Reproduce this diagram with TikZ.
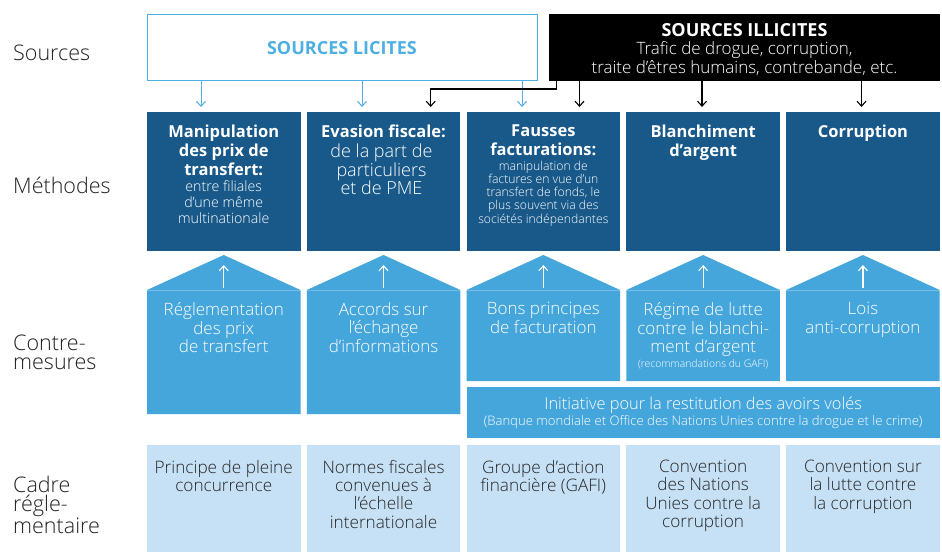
\documentclass[tikz,border=0pt]{standalone}
\usepackage{fontspec}
\setmainfont{Open Sans}
\newfontfamily\lightf{Open Sans Light}
\usetikzlibrary{arrows.meta,calc}
\definecolor{dblue}{HTML}{18598A}
\definecolor{mblue}{HTML}{45A6DB}
\definecolor{lblue}{HTML}{C6E1F5}
\definecolor{licit}{HTML}{4DAFE3}
\definecolor{lbltext}{HTML}{222222}
\newcommand\fs[2]{\fontsize{#1}{#2}\selectfont}
\begin{document}
\begin{tikzpicture}[x=1pt,y=-1pt,
  mbox/.style={fill=dblue, anchor=north west, minimum width=153.5pt, minimum height=139pt, inner sep=0, outer sep=0},
  bbox/.style={fill=lblue, anchor=north west, minimum width=153.5pt, minimum height=107pt, inner sep=0, outer sep=0},
  mtitle/.style={anchor=north, align=center, text=white, inner sep=0, font=\bfseries\fs{16.5}{19}},
  mdesc/.style={anchor=north, align=center, text=white, inner sep=0},
  htext/.style={anchor=north, align=center, text=white, inner sep=0, font=\lightf\fs{17}{18.6}},
  btext/.style={anchor=north, align=center, text=black!85, inner sep=0, font=\lightf\fs{17.2}{18.3}},
  lbl/.style={anchor=north west, align=left, inner sep=0, text=lbltext, font=\lightf\fs{21.5}{19}},
  licarr/.style={draw=licit, line width=1pt, -{Straight Barb[length=5pt,width=9pt]}, shorten >=5pt},
  illarr/.style={draw=black, line width=1.1pt, -{Straight Barb[length=5pt,width=9pt]}, shorten >=5pt},
  harr/.style={draw=white, line width=1.1pt, -{Straight Barb[length=5pt,width=9pt]}},
]
\useasboundingbox (0,0) rectangle (942,552);
\fill[white] (0,0) rectangle (942,552);

% left labels
\node[lbl] (s1) at (13,44.4) {Sources};
\node[lbl] (s2) at (13,176.4) {Méthodes};
\node[lbl] (s3) at (13,334.4) {Contre-\\mesures};
\node[lbl] (s4) at (13,476.4) {Cadre\\régle-\\mentaire};

% sources
\node[draw=licit, line width=1.2pt, fill=white, anchor=north west, minimum width=390pt, minimum height=66pt, inner sep=0] (lic) at (147,14) {};
\node[fill=black, anchor=north west, minimum width=391pt, minimum height=67pt, inner sep=0, outer sep=0] (ill) at (549,14) {};
\node[font=\bfseries\fs{18}{18}, text=licit, inner sep=0] (lict) at (342,48) {SOURCES LICITES};
\node[anchor=north, font=\bfseries\fs{18}{18}, text=white, inner sep=0] (illt) at (744.5,22.9) {SOURCES ILLICITES};
\node[anchor=north, align=center, font=\lightf\fs{17}{18.4}, text=white, inner sep=0] (illd) at (744.5,41.5) {Trafic de drogue, corruption,\\traite d’êtres humains, contrebande, etc.};

% methods
\node[mbox] (m1) at (147,112) {};
\node[mbox] (m2) at (306.8,112) {};
\node[mbox] (m3) at (466.6,112) {};
\node[mbox] (m4) at (626.4,112) {};
\node[mbox] (m5) at (786.2,112) {};

\node[mtitle] (m1t) at (223.75,125) {Manipulation\\des prix de\\transfert:};
\node[mdesc, font=\lightf\fs{14.2}{16}] (m1d) at (223.75,180.3) {entre filiales\\d’une même\\multinationale};
\node[mtitle] (m2t) at (383.55,125) {Evasion fiscale:};
\node[mdesc, font=\lightf\fs{18}{18.4}] (m2d) at (381.5,143.8) {de la part de\\particuliers\\et de PME};
\node[mtitle] (m3t) at (543.35,125) {Fausses\\facturations:};
\node[mdesc, font=\lightf\fs{12.2}{13.1}] (m3d) at (543.35,161.2) {manipulation de\\factures en vue d’un\\transfert de fonds, le\\plus souvent via des\\sociétés indépendantes};
\node[mtitle] (m4t) at (703.15,125) {Blanchiment\\d’argent};
\node[mtitle] (m5t) at (862.95,125) {Corruption};

% source arrows
\coordinate (la1) at (201,0);
\coordinate (la2) at (362,0);
\coordinate (la3) at (522,0);
\draw[licarr] (lic.south -| la1) -- (m1.north -| la1);
\draw[licarr] (lic.south -| la2) -- (m2.north -| la2);
\draw[licarr] (lic.south -| la3) -- (m3.north -| la3);
\coordinate (ib1) at (579.5,0);
\coordinate (ib2) at (702,0);
\coordinate (ib3) at (861.5,0);
\draw[illarr] (ill.south -| ib1) -- (m3.north -| ib1);
\draw[illarr] (ill.south -| ib2) -- (m4.north -| ib2);
\draw[illarr] (ill.south -| ib3) -- (m5.north -| ib3);
\coordinate (bk0) at (556.5,89);
\coordinate (bk1) at (430.7,89);
\draw[illarr] (ill.south -| bk0) -- (bk0) -- (bk1) -- (m2.north -| bk1);

% counter-measures (houses)
\foreach \l/\b [count=\i] in {147/414,306.8/414,466.6/381,626.4/381,786.2/381} {
  \fill[mblue] (\l,290) -- (\l+76.75,255) -- (\l+153.5,290) -- (\l+153.5,\b) -- (\l,\b) -- cycle;
  \draw[white, opacity=0.25, line width=0.6pt] (\l,290) -- (\l+153.5,290);
  \coordinate (ha\i) at (\l+76.75,288);
  \coordinate (hb\i) at (\l+76.75,265);
  \draw[harr] (ha\i) -- (hb\i);
}
\node[htext] (k1) at (223.75,302.2) {Réglementation\\des prix\\de transfert};
\node[htext] (k2) at (383.55,302.2) {Accords sur\\l’échange\\d’informations};
\node[htext] (k3) at (543.35,302.2) {Bons principes\\de facturation};
\node[htext] (k4) at (703.15,302.2) {Régime de lutte\\contre le blanchi-\\ment d’argent};
\node[mdesc, font=\lightf\fs{10.4}{12}] (k4s) at (703.15,359.8) {(recommandations du GAFI)};
\node[htext] (k5) at (862.95,302.2) {Lois\\anti-corruption};

\node[fill=mblue, anchor=north west, minimum width=473.1pt, minimum height=51pt, inner sep=0, outer sep=0] (band) at (466.6,387) {};
\node[mdesc, font=\lightf\fs{16.4}{18}] (bandt) at (703.15,396.8) {Initiative pour la restitution des avoirs volés};
\node[mdesc, font=\lightf\fs{13.1}{14}] (bands) at (703.15,415.5) {(Banque mondiale et Office des Nations Unies contre la drogue et le crime)};

% regulatory framework
\node[bbox] (c1) at (147,445) {};
\node[bbox] (c2) at (306.8,445) {};
\node[bbox] (c3) at (466.6,445) {};
\node[bbox] (c4) at (626.4,445) {};
\node[bbox] (c5) at (786.2,445) {};
\node[btext] (c1t) at (223.75,459.8) {Principe de pleine\\concurrence};
\node[btext] (c2t) at (383.55,459.8) {Normes fiscales\\convenues à\\l’échelle\\internationale};
\node[btext] (c3t) at (543.35,459.8) {Groupe d’action\\financière (GAFI)};
\node[btext] (c4t) at (703.15,459.8) {Convention\\des Nations\\Unies contre la\\corruption};
\node[btext] (c5t) at (862.95,459.8) {Convention sur\\la lutte contre\\la corruption};
\end{tikzpicture}
\end{document}
